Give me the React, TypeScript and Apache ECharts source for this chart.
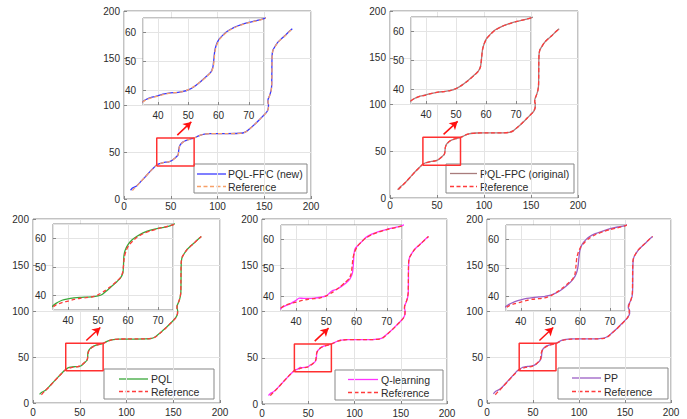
import React, { useEffect, useRef } from "react";
import * as echarts from "echarts";

// ---------- DATA ----------
const mainTicks = [0, 50, 100, 150, 200];
const zoomXRange = [35, 75];
const zoomYRange = [35, 65];
const arrowFrom = [57, 68];
const arrowTo = [72, 82];

const referencePath = [
  [9, 9], [11, 11.3], [13, 13.2], [17, 17.3], [22, 22.8], [27, 28.3], [31, 32.4], [34, 35.3], [36, 36.8], [38, 37.6],
  [40, 38.1], [42, 38.7], [44, 39.1], [46, 39.3], [48, 39.6], [50, 40.3], [52, 41.5], [54, 43], [56, 44.8], [57.5, 46.3],
  [58.2, 48], [58.5, 50.5], [58.8, 53.5], [59.3, 55.5], [60.2, 57.5], [61.5, 59], [63, 60.4], [65, 61.6], [67.5, 62.6],
  [70, 63.4], [72.5, 64], [75, 64.7], [78, 66.2], [82, 68], [86, 69], [92, 69.5], [100, 69.6], [110, 69.6], [120, 69.7],
  [127, 70.2], [131, 71.8], [136, 76], [141, 80.5], [146, 85.5], [150, 89.5], [153, 93], [154.5, 97], [154.6, 100.5],
  [154, 103], [154.2, 106], [155.8, 110], [157.3, 115], [158, 120], [158.2, 130], [158.3, 145], [158.6, 154],
  [159.5, 158.5], [161.5, 162], [164.5, 166.5], [168, 170], [172, 173.5], [176, 177.5], [180, 181],
];

const pqlFpcNewPath = [
  [7, 9.3], [9, 11.6], [11, 12.6], [13, 13.5], [17, 17.4], [22, 22.8], [27, 28.3], [31, 32.5], [34, 35.4], [36, 36.9],
  [38, 37.7], [40, 38.2], [42, 38.8], [44, 39.2], [46, 39.3], [48, 39.6], [50, 40.2], [52, 41.4], [54, 43], [56, 44.9],
  [57.5, 46.4], [58.1, 48.1], [58.4, 50.5], [58.7, 53.5], [59.2, 55.6], [60.1, 57.6], [61.4, 59.1], [63, 60.5], [65, 61.7],
  [67.5, 62.7], [70, 63.5], [72.5, 64.1], [75, 64.8], [78, 66.3], [82, 68], [86, 69], [92, 69.5], [100, 69.6], [110, 69.6],
  [120, 69.7], [127, 70.2], [131, 71.9], [136, 76.1], [141, 80.6], [146, 85.6], [150, 89.6], [153, 93.1], [154.4, 97],
  [154.5, 100.5], [153.9, 103], [154.1, 106], [155.7, 110], [157.2, 115], [157.9, 120], [158.1, 130], [158.2, 145],
  [158.5, 154], [159.4, 158.6], [161.4, 162.1], [164.4, 166.6], [168, 170.1], [172, 173.6], [176, 177.6], [180, 181],
];

const pqlFpcOriginalPath = [
  [8, 9], [10, 11], [12, 12.8], [14, 14.3], [17, 17.3], [22, 22.8], [27, 28.3], [31, 32.4], [34, 35.3], [36, 36.8],
  [38, 37.7], [40, 38.2], [42, 38.7], [44, 39.1], [46, 39.3], [48, 39.6], [50, 40.3], [52, 41.5], [54, 43.1], [56, 44.9],
  [57.5, 46.4], [58.2, 48.1], [58.5, 50.6], [58.8, 53.5], [59.3, 55.5], [60.2, 57.6], [61.5, 59.1], [63, 60.5], [65, 61.6],
  [67.5, 62.6], [70, 63.4], [72.5, 64], [75, 64.7], [78, 66.2], [82, 68], [86, 69], [92, 69.5], [100, 69.6], [110, 69.6],
  [120, 69.7], [127, 70.2], [131, 71.8], [136, 76], [141, 80.5], [146, 85.5], [150, 89.5], [153, 93], [154.4, 97],
  [154.5, 100.5], [153.9, 103], [154.2, 106], [155.8, 110], [157.3, 115], [158, 120], [158.2, 130], [158.3, 145],
  [158.6, 154], [159.5, 158.5], [161.5, 162], [164.5, 166.5], [168, 170], [172, 173.5], [176, 177.5], [180, 181],
];

const pqlPath = [
  [7, 9.4], [9, 11.4], [11, 12.5], [13, 13.6], [17, 17.5], [22, 23], [27, 28.4], [31, 32.6], [34, 35.6], [36, 37.3],
  [38, 38.4], [40, 38.9], [42, 39.2], [44, 39.4], [46, 39.5], [48, 39.6], [50, 39.9], [51.5, 40.5], [53, 41.8], [54.5, 43.2],
  [56, 44.6], [57.5, 46.2], [58.3, 48], [58.5, 50.5], [58.6, 53.5], [59, 55.7], [60, 57.8], [61.3, 59.4], [63, 60.7],
  [65, 61.9], [67.5, 62.9], [70, 63.5], [72.5, 63.9], [75, 64.8], [78, 66.4], [82, 68.1], [86, 69], [92, 69.4], [100, 69.5],
  [110, 69.5], [120, 69.6], [127, 70.3], [131, 72], [136, 76.2], [141, 80.6], [146, 85.6], [150, 89.7], [153, 93.3],
  [154.6, 97.2], [154.7, 100.4], [154.1, 103.2], [154.3, 106.2], [156, 110.2], [157.4, 115], [158.1, 120], [158.3, 130],
  [158.4, 145], [158.7, 154], [159.6, 158.6], [161.6, 162.2], [164.6, 166.6], [168.1, 170.1], [172, 173.6], [176, 177.5],
  [180, 181],
];

const qLearningPath = [
  [7, 9.2], [9, 11.3], [10.5, 12.3], [12.5, 13.2], [15, 15.5], [18, 18.5], [22, 22.9], [27, 28.3], [31, 32.4], [34, 35.2],
  [36, 36.6], [38, 37.5], [40, 38.7], [41, 39.5], [42.5, 39.4], [44, 39.4], [46, 39.5], [48, 39.8], [50, 40.3], [51, 41.2],
  [52, 42.1], [53.5, 42.6], [55, 43.6], [56.5, 44.8], [57.8, 46.2], [58.6, 48.2], [58.9, 51], [59.1, 54.5], [59.4, 56.5],
  [60.1, 57.5], [61.5, 59], [63, 60.6], [65, 61.8], [67.5, 62.8], [70, 63.5], [72.5, 64.1], [75, 64.8], [78, 66.3],
  [82, 68.1], [86, 69.1], [92, 69.5], [100, 69.6], [110, 69.6], [120, 69.7], [127, 70.3], [131, 72], [136, 76.2],
  [141, 80.7], [146, 85.7], [150, 89.7], [153, 93.3], [154.6, 97.3], [154.7, 100.6], [154.1, 103.1], [154.3, 106.1],
  [155.9, 110.1], [157.4, 115.1], [158.1, 120], [158.3, 130], [158.4, 145], [158.7, 154.2], [159.6, 158.7], [161.6, 162.2],
  [164.6, 166.7], [168.1, 170.2], [172.1, 173.7], [176, 177.6], [180, 181],
];

const ppPath = [
  [7, 10], [8.5, 11.8], [10, 13], [12, 14], [14.5, 15.5], [18, 18.8], [22, 23.2], [27, 28.6], [31, 33], [34, 35.8],
  [36, 37.3], [38, 38.3], [40, 38.9], [42, 39.4], [44, 39.7], [46, 39.9], [48, 40.1], [50, 40.5], [52, 41.4], [54, 42.7],
  [56, 44.4], [57.5, 46], [58.6, 48], [59.2, 50.5], [59.5, 53.5], [59.8, 56], [60.6, 58.3], [61.8, 59.8], [63, 60.9],
  [65, 62], [67.5, 62.9], [70, 63.7], [72.5, 64.3], [75, 64.8], [78, 66.5], [82, 68.3], [86, 69.2], [92, 69.6], [100, 69.7],
  [110, 69.7], [120, 69.8], [127, 70.4], [131, 72.2], [136, 76.4], [141, 80.8], [146, 85.8], [150, 89.8], [153, 93.2],
  [155, 97], [155, 100.5], [153.6, 103.5], [153.8, 106.5], [155.8, 110.5], [157.5, 115], [158.2, 120], [158.4, 130],
  [158.5, 145], [158.8, 154], [159.8, 158.8], [161.8, 162.3], [164.8, 166.8], [168.2, 170.2], [172.1, 173.6], [176, 177.6],
  [180, 181],
];

const methodNames = ["PQL-FPC (new)", "PQL-FPC (original)", "PQL", "Q-learning", "PP"];
const methodPaths = [pqlFpcNewPath, pqlFpcOriginalPath, pqlPath, qLearningPath, ppPath];
const referenceName = "Reference";

// ---------- STYLE / LAYOUT ----------
const FONT = "Liberation Sans, Arial, Helvetica, sans-serif";
const methodColors = ["#3a3aff", "#a87c7c", "#3aa83a", "#ff33ff", "#9b5fc4"];
const refColors = ["#f7a068", "#ff3b3b", "#ff3b3b", "#ff3b3b", "#ff3b3b"];
const BOX = "#878787";
const GRIDLINE = "#e4e4e4";
const TEXT = "#2b2b2b";
const LW = 1.3;

const layouts = [
  {
    main: { left: 124, top: 11, width: 187, height: 188 },
    inset: { left: 143, top: 18, width: 121, height: 87 },
    legend: { x: 194, y: 164, w: 113, h: 29, l1: 3, l2: 32, t: 34, r1: 10, r2: 22.5 },
  },
  {
    main: { left: 390, top: 11, width: 188, height: 187 },
    inset: { left: 411, top: 17, width: 120, height: 87 },
    legend: { x: 446, y: 164, w: 128, h: 29, l1: 4, l2: 31, t: 34, r1: 9.5, r2: 22.5 },
  },
  {
    main: { left: 33, top: 219, width: 187, height: 184 },
    inset: { left: 53, top: 224, width: 120, height: 86 },
    legend: { x: 104, y: 369, w: 110, h: 30, l1: 15, l2: 44, t: 47, r1: 10, r2: 22.5 },
  },
  {
    main: { left: 262, top: 219, width: 185, height: 185 },
    inset: { left: 281, top: 225, width: 121, height: 86 },
    legend: { x: 335, y: 370, w: 108, h: 30, l1: 13, l2: 43, t: 46, r1: 9.5, r2: 22.5 },
  },
  {
    main: { left: 487, top: 219, width: 184, height: 184 },
    inset: { left: 506, top: 225, width: 119, height: 86 },
    legend: { x: 558, y: 368, w: 110, h: 31, l1: 14, l2: 43, t: 46, r1: 10, r2: 23.5 },
  },
];

function buildOption() {
  const grid: any[] = [];
  const xAxis: any[] = [];
  const yAxis: any[] = [];
  const series: any[] = [];
  const graphic: any[] = [];

  const labelStyle = { fontSize: 10, color: TEXT, fontFamily: FONT };

  layouts.forEach((lay, i) => {
    const gMain = grid.length;
    grid.push({ ...lay.main, show: true, borderColor: BOX, borderWidth: 1, backgroundColor: "#fff", containLabel: false, z: 0 });
    const gIn = grid.length;
    grid.push({ ...lay.inset, show: true, borderColor: BOX, borderWidth: 1, backgroundColor: "#fff", containLabel: false, z: 5 });

    const mainAxis = (isX: boolean) => ({
      type: "value",
      gridIndex: gMain,
      min: mainTicks[0],
      max: mainTicks[mainTicks.length - 1],
      interval: mainTicks[1] - mainTicks[0],
      axisLine: { show: false },
      axisTick: { show: true, inside: true, length: 3, lineStyle: { color: BOX } },
      axisLabel: { ...labelStyle, margin: isX ? (i < 2 ? 2 : 4) : 4 },
      splitLine: { show: true, lineStyle: { color: GRIDLINE, width: 1 } },
      z: 0,
    });
    const insetAxis = (isX: boolean) => ({
      type: "value",
      gridIndex: gIn,
      min: isX ? zoomXRange[0] : zoomYRange[0],
      max: isX ? zoomXRange[1] : zoomYRange[1],
      splitNumber: isX ? 4 : 3,
      axisLine: { show: false },
      axisTick: { show: true, inside: true, length: 3, lineStyle: { color: BOX } },
      axisLabel: { ...labelStyle, margin: isX ? 5 : 7, showMinLabel: false, showMaxLabel: false },
      splitLine: { show: true, lineStyle: { color: GRIDLINE, width: 1 } },
      z: 6,
    });
    const xm = xAxis.length;
    xAxis.push(mainAxis(true));
    const xi = xAxis.length;
    xAxis.push(insetAxis(true));
    const ym = yAxis.length;
    yAxis.push(mainAxis(false));
    const yi = yAxis.length;
    yAxis.push(insetAxis(false));

    const common = {
      type: "line",
      symbol: "none",
      showSymbol: false,
      silent: true,
      smooth: 0.2,
      animation: false,
      emphasis: { disabled: true },
      clip: true,
    };

    // main plot
    series.push({ ...common, name: methodNames[i], xAxisIndex: xm, yAxisIndex: ym, data: methodPaths[i],
      lineStyle: { color: methodColors[i], width: LW }, z: 2 });
    series.push({ ...common, name: referenceName, xAxisIndex: xm, yAxisIndex: ym, data: referencePath,
      lineStyle: { color: refColors[i], width: LW, type: [4, 2.5] }, z: 2 });
    // zoom rectangle + arrow
    series.push({
      ...common,
      smooth: false,
      name: "zoom",
      xAxisIndex: xm,
      yAxisIndex: ym,
      data: [
        [zoomXRange[0], zoomYRange[0]], [zoomXRange[1], zoomYRange[0]], [zoomXRange[1], zoomYRange[1]],
        [zoomXRange[0], zoomYRange[1]], [zoomXRange[0], zoomYRange[0]],
      ],
      lineStyle: { color: "#ff3030", width: 1.5 },
      z: 3,
      markLine: {
        silent: true,
        animation: false,
        symbol: ["none", "arrow"],
        symbolSize: [7, 8],
        label: { show: false },
        emphasis: { disabled: true },
        lineStyle: { color: "#ff1010", width: 1.5, type: "solid" },
        data: [[{ coord: arrowFrom }, { coord: arrowTo }]],
      },
    });
    // inset
    series.push({ ...common, name: methodNames[i] + " zoom", xAxisIndex: xi, yAxisIndex: yi, data: methodPaths[i],
      lineStyle: { color: methodColors[i], width: LW }, z: 7 });
    series.push({ ...common, name: referenceName + " zoom", xAxisIndex: xi, yAxisIndex: yi, data: referencePath,
      lineStyle: { color: refColors[i], width: LW, type: [4, 2.5] }, z: 7 });

    // legend
    const L = lay.legend;
    graphic.push({
      type: "group",
      x: L.x,
      y: L.y,
      z: 20,
      silent: true,
      children: [
        { type: "rect", shape: { x: 0, y: 0, width: L.w, height: L.h }, style: { fill: "#fff", stroke: BOX, lineWidth: 1 } },
        { type: "line", shape: { x1: L.l1, y1: L.r1, x2: L.l2, y2: L.r1 }, style: { stroke: methodColors[i], lineWidth: LW } },
        { type: "line", shape: { x1: L.l1, y1: L.r2, x2: L.l2, y2: L.r2 }, style: { stroke: refColors[i], lineWidth: LW, lineDash: [4, 2.5] } },
        { type: "text", x: L.t, y: L.r1, style: { text: methodNames[i], fontSize: 10.5, fontFamily: FONT, fill: TEXT, verticalAlign: "middle", textVerticalAlign: "middle" } },
        { type: "text", x: L.t, y: L.r2, style: { text: referenceName, fontSize: 10.5, fontFamily: FONT, fill: TEXT, verticalAlign: "middle", textVerticalAlign: "middle" } },
      ],
    });
  });

  return {
    animation: false,
    backgroundColor: "#ffffff",
    textStyle: { fontFamily: FONT },
    grid,
    xAxis,
    yAxis,
    series,
    graphic,
  };
}

export default function App() {
  const ref = useRef<HTMLDivElement>(null);
  useEffect(() => {
    document.body.style.margin = "0";
    if (!ref.current) return;
    const chart = echarts.init(ref.current, null, { renderer: "svg" });
    chart.setOption(buildOption() as any);
    return () => chart.dispose();
  }, []);
  return <div ref={ref} style={{ position: "fixed", left: 0, top: 0, width: 687, height: 419, background: "#fff" }} />;
}
